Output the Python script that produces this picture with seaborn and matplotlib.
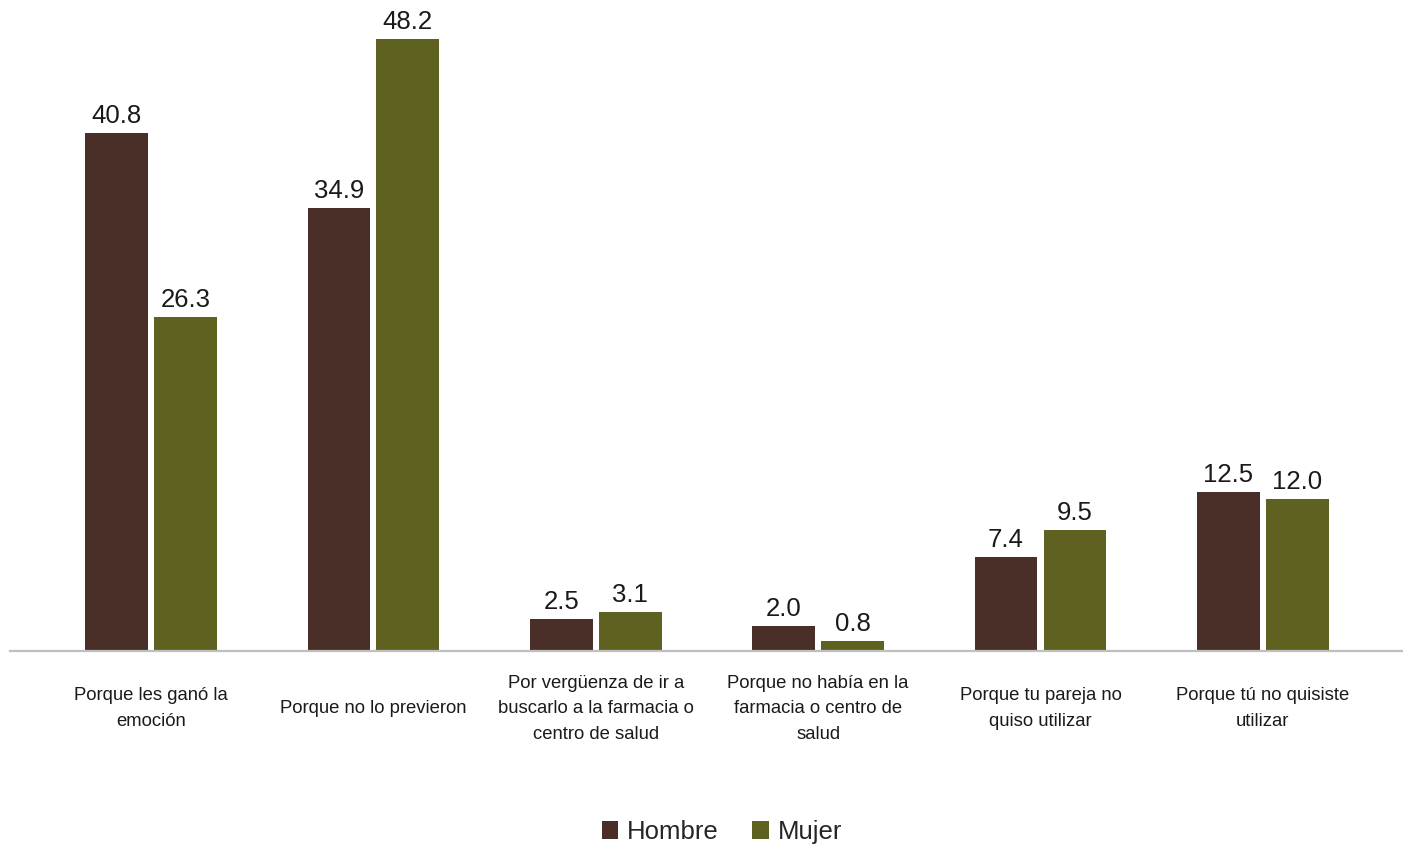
import matplotlib
matplotlib.use("Agg")
import matplotlib.pyplot as plt
import seaborn as sns
import pandas as pd
from matplotlib.patches import Patch

categories = [
    "Porque les ganó la\nemoción",
    "Porque no lo previeron",
    "Por vergüenza de ir a\nbuscarlo a la farmacia o\ncentro de salud",
    "Porque no había en la\nfarmacia o centro de\nsalud",
    "Porque tu pareja no\nquiso utilizar",
    "Porque tú no quisiste\nutilizar",
]
hombre = [40.8, 34.9, 2.5, 2.0, 7.4, 12.5]
mujer = [26.3, 48.2, 3.1, 0.8, 9.5, 12.0]
series = ["Hombre", "Mujer"]
colors = ["#4a2f28", "#5e6120"]

df = pd.DataFrame({
    "cat": categories * 2,
    "val": hombre + mujer,
    "sexo": [series[0]] * len(categories) + [series[1]] * len(categories),
})

sns.set_theme(style="white")
plt.rcParams["font.family"] = ["Liberation Sans", "DejaVu Sans"]

fig = plt.figure(figsize=(14.03, 8.46), dpi=100)
ax = fig.add_axes([10 / 1403, (846 - 651) / 846, 1393 / 1403, (651 - 16) / 846])

sns.barplot(data=df, x="cat", y="val", hue="sexo", order=categories,
            hue_order=series, palette=colors, width=0.62, gap=0.09,
            linewidth=0, saturation=1, ax=ax, legend=False)

ax.set_xlim(-0.634, 5.63)
ax.set_ylim(0, 50)
ax.set_xlabel("")
ax.set_ylabel("")
ax.set_yticks([])
for s in ["top", "right", "left"]:
    ax.spines[s].set_visible(False)
ax.spines["bottom"].set_color("#bfbfbf")
ax.spines["bottom"].set_linewidth(1.6)

ax.tick_params(axis="x", length=0, pad=41.5, labelsize=13.3, colors="#1a1a1a")
for lab in ax.get_xticklabels():
    lab.set_va("center")
    lab.set_ha("center")
    lab.set_multialignment("center")
    lab.set_linespacing(1.65)

for cont in ax.containers:
    ax.bar_label(cont, fmt="%.1f", padding=3.5, fontsize=18.5, color="#1a1a1a")

handles = [Patch(facecolor=c, edgecolor="none") for c in colors]
fig.legend(handles, series, loc="center", bbox_to_anchor=(722 / 1403, 1 - 832 / 846),
           ncol=2, frameon=False, fontsize=18.5, handlelength=0.65, handleheight=0.65,
           handletextpad=0.35, columnspacing=1.3)

fig.savefig("out.png", dpi=100)
